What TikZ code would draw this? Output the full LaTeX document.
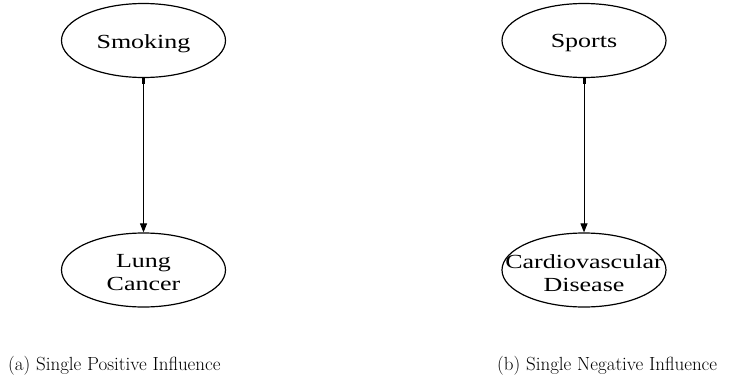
\documentclass[tikz,border=0pt]{standalone}
\usepackage{fontspec}
\newfontfamily\nodefont{Liberation Serif}
\usetikzlibrary{shapes.geometric,arrows.meta}
\tikzset{
  var/.style={draw, ellipse, line width=1.2pt, minimum width=164pt, minimum height=74pt, inner sep=0pt, align=center,
    font=\nodefont\fontsize{20}{23}\selectfont},
  link/.style={line width=1pt, -{Triangle[length=9pt,width=7pt]}},
  stub/.style={line width=3pt},
  captext/.style={anchor=base west, font=\fontsize{19}{22}\selectfont, inner sep=0pt}
}
% node labels: slightly widened and lowered, zero width so the ellipse keeps its size
\newcommand{\wide}[1]{\makebox[0pt]{\raisebox{-3pt}[\height][\depth]{\scalebox{1.3}[1]{#1}}}}
\begin{document}
\begin{tikzpicture}[x=1pt,y=-1pt]
  \useasboundingbox (0,0) rectangle (734,383);
  % panel (a)
  \node[var] (smk) at (143.5,40.5) {\wide{Smoking}};
  \node[var] (lc) at (143.5,270) {\wide{Lung}\\\wide{Cancer}};
  \draw[link] (smk.south) -- (lc.north);
  \draw[stub] (smk.south) -- ++(0,6);
  \node[captext] (ca) at (8,370) {(a) Single Positive Influence};
  % panel (b)
  \node[var] (spt) at (584,40.5) {\wide{Sports}};
  \node[var] (cvd) at (584,270) {\wide{Cardiovascular}\\\wide{Disease}};
  \draw[link] (spt.south) -- (cvd.north);
  \draw[stub] (spt.south) -- ++(0,6);
  \node[captext] (cb) at (497,370) {(b) Single Negative Influence};
\end{tikzpicture}
\end{document}
